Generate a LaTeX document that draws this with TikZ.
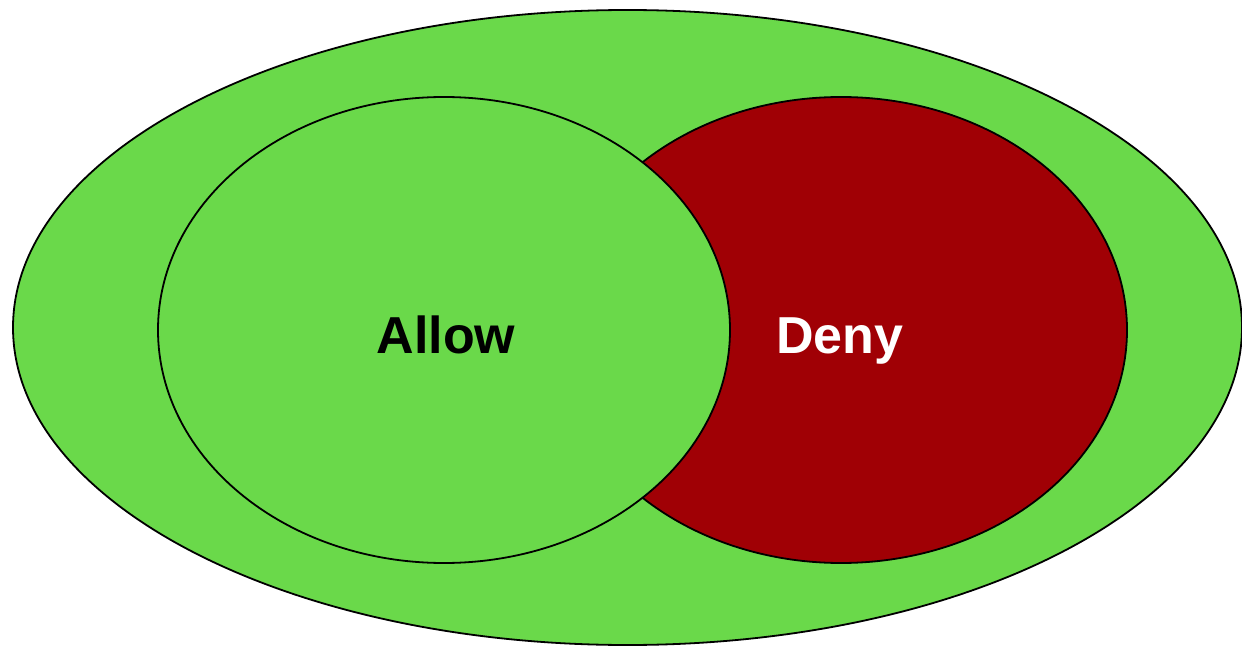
\documentclass[tikz,border=0pt]{standalone}
\usepackage{fontspec}
\setmainfont{Liberation Sans}
\usetikzlibrary{shapes.geometric}
\definecolor{setgreen}{HTML}{6AD94A}
\definecolor{setred}{HTML}{A00005}
\begin{document}
\begin{tikzpicture}[
    x=1pt, y=-1pt,
    set/.style={ellipse, draw=black, line width=1.8pt, inner sep=0pt},
    label/.style={anchor=base, font=\fontsize{52}{60}\selectfont\bfseries}
]
\useasboundingbox (0,0) rectangle (1242,647);

\node[set, fill=setgreen, minimum width=1229pt, minimum height=635pt] (scope) at (627.5,327.5) {};
\node[set, fill=setred, minimum width=572pt, minimum height=466pt] (deny) at (841,330) {};
\node[set, fill=setgreen, minimum width=572pt, minimum height=466pt] (allow) at (444,330) {};

\node[label, text=black] (allowtext) at (446,353) {Allow};
\node[label, text=white] (denytext) at (840,353) {Deny};

\end{tikzpicture}
\end{document}
